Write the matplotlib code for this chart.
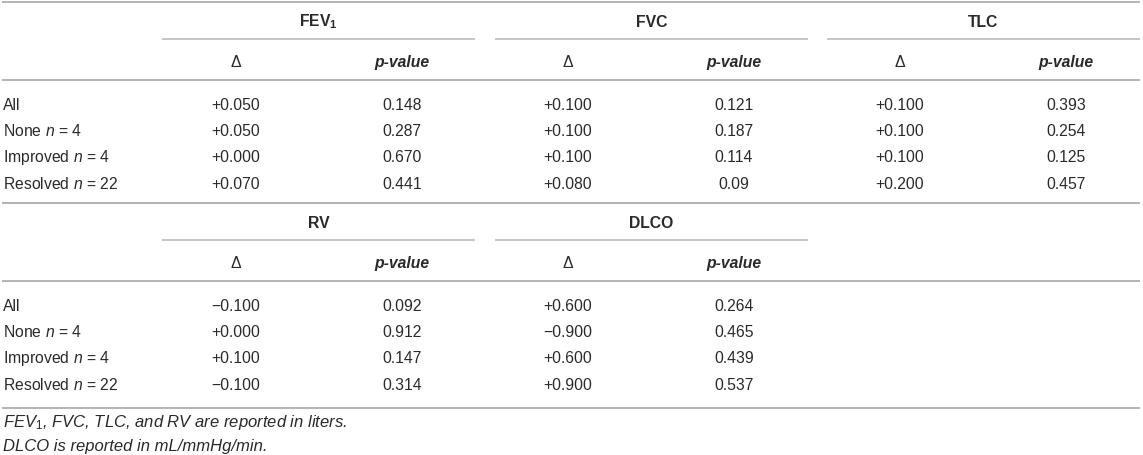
import matplotlib.pyplot as plt

plt.rcParams['font.family'] = ['Liberation Sans', 'DejaVu Sans']
plt.rcParams['mathtext.fontset'] = 'custom'
plt.rcParams['mathtext.rm'] = 'Liberation Sans'
plt.rcParams['mathtext.it'] = 'Liberation Sans:italic'
plt.rcParams['mathtext.bf'] = 'Liberation Sans:bold'

row_labels = ['All', 'None $n$ = 4', 'Improved $n$ = 4', 'Resolved $n$ = 22']

top_groups = [r'$\mathbf{FEV}_\mathbf{1}$', 'FVC', 'TLC']
top_deltas = [
    ['+0.050', '+0.050', '+0.000', '+0.070'],
    ['+0.100', '+0.100', '+0.100', '+0.080'],
    ['+0.100', '+0.100', '+0.100', '+0.200'],
]
top_pvalues = [
    ['0.148', '0.287', '0.670', '0.441'],
    ['0.121', '0.187', '0.114', '0.09'],
    ['0.393', '0.254', '0.125', '0.457'],
]

bottom_groups = ['RV', 'DLCO']
bottom_deltas = [
    ['\u22120.100', '+0.000', '+0.100', '\u22120.100'],
    ['+0.600', '\u22120.900', '+0.600', '+0.900'],
]
bottom_pvalues = [
    ['0.092', '0.912', '0.147', '0.314'],
    ['0.264', '0.465', '0.439', '0.537'],
]

footnotes = [
    r'$\mathit{FEV}_\mathrm{1}$, FVC, TLC, and RV are reported in liters.',
    'DLCO is reported in mL/mmHg/min.',
]

W, H = 1143, 456
text_color = '#2a2a2a'
line_color = '#b5b5b5'
fs = 11.3

fig = plt.figure(figsize=(W / 100, H / 100), dpi=100)
ax = fig.add_axes([0, 0, 1, 1])
ax.set_xlim(0, W)
ax.set_ylim(H, 0)
ax.axis('off')

col_centers = [236, 402, 568, 734, 900, 1066]
group_spans = [(162, 475), (495, 808), (827, 1140)]


def hline(y, x0=2, x1=1140, lw=1.45):
    ax.plot([x0, x1], [y, y], color=line_color, lw=lw, solid_capstyle='butt')


def txt(x, y, s, ha='center', size=fs, **kw):
    # y is the visual centre of the capitals; place the baseline under it
    ax.text(x, y + size * 0.5, s, ha=ha, va='baseline', fontsize=size,
            color=text_color, **kw)


def draw_block(top, groups, deltas, pvalues):
    hline(top)
    for i, g in enumerate(groups):
        x0, x1 = group_spans[i]
        txt((x0 + x1) / 2, top + 18, g, fontweight='bold')
        hline(top + 36.5, x0, x1, lw=1.1)
        txt(col_centers[2 * i], top + 58, '\u0394')
        txt(col_centers[2 * i + 1], top + 58, 'p-value',
            fontweight='bold', fontstyle='italic')
    hline(top + 78)
    for r, lab in enumerate(row_labels):
        y = top + 101 + r * 26.3
        txt(3, y, lab, ha='left')
        for i in range(len(groups)):
            txt(col_centers[2 * i], y, deltas[i][r])
            txt(col_centers[2 * i + 1], y, pvalues[i][r])


draw_block(3, top_groups, top_deltas, top_pvalues)
draw_block(204, bottom_groups, bottom_deltas, bottom_pvalues)
hline(409)

for k, note in enumerate(footnotes):
    txt(3, 421 + k * 24.5, note, ha='left', size=12, fontstyle='italic')

fig.savefig('out.png', dpi=100)
